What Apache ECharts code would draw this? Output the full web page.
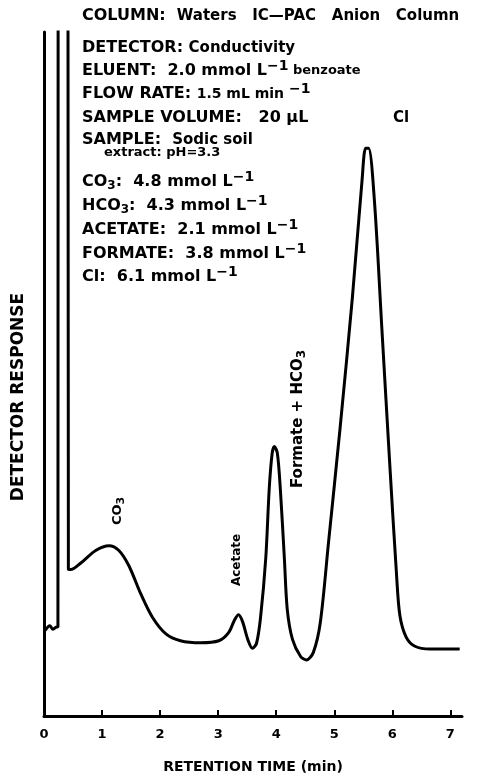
<!DOCTYPE html>
<html>
<head>
<meta charset="utf-8">
<title>Ion chromatogram</title>
<script src="https://cdn.jsdelivr.net/npm/echarts@6/dist/echarts.min.js"></script>
<style>
  html, body { margin: 0; padding: 0; background: #fff; }
  #main { width: 487px; height: 779px; }
</style>
</head>
<body>
<div id="main"></div>
<script>
// retention time (min) and detector response (arbitrary units)
var times = [0.02, 0.10, 0.15, 0.22, 0.24, 0.245, 0.41, 0.42, 0.46, 0.64, 0.89, 1.12, 1.29, 1.46, 1.67, 1.87,
    2.10, 2.35, 2.70, 3.01, 3.18, 3.28, 3.35, 3.42, 3.51, 3.59, 3.66, 3.73, 3.82, 3.88, 3.93, 3.97,
    4.02, 4.07, 4.14, 4.19, 4.28, 4.42, 4.52, 4.64, 4.76, 4.90, 5.10, 5.31, 5.48, 5.54, 5.59, 5.69,
    5.82, 5.96, 6.07, 6.13, 6.24, 6.39, 6.65, 7.16];
var response = [12.5, 13.2, 12.7, 13.0, 13.0, 150, 150, 21.5, 21.4, 22.4, 24.2, 24.9, 24.2, 22.0, 17.8, 14.4,
    12.0, 11.0, 10.7, 11.0, 12.2, 14.0, 14.8, 13.8, 11.2, 9.9, 10.6, 14.4, 23.1, 33.3, 38.4, 39.4,
    38.4, 33.3, 23.1, 15.6, 11.2, 8.7, 8.2, 9.3, 13.7, 25.3, 42.1, 61.0, 78.5, 83.0, 83.0, 75.5,
    56.6, 36.2, 21.0, 14.7, 11.5, 10.2, 9.8, 9.8];
var tickValues = [0, 1, 2, 3, 4, 5, 6, 7];

// conditions text, one entry per line
var infoLines = [
    '{b|COLUMN:  }{w|Waters   IC—PAC   Anion   Column}',
    '{b|DETECTOR: }{m|Conductivity}',
    '{b|ELUENT:  }{b|2.0 mmol L}{sup|−1}{t| benzoate}',
    '{b|FLOW RATE: }{f|1.5 mL min }{sup|−1}',
    '{b|SAMPLE VOLUME:   20 µL}',
    '{b|SAMPLE:  }{m|Sodic soil}',
    '{t|extract: pH=3.3}',
    '{b|CO}{sub|3}{b|:  4.8 mmol L}{sup|−1}',
    '{b|HCO}{sub|3}{b|:  4.3 mmol L}{sup|−1}',
    '{b|ACETATE:  2.1 mmol L}{sup|−1}',
    '{b|FORMATE:  3.8 mmol L}{sup|−1}',
    '{b|Cl:  6.1 mmol L}{sup|−1}'
];
var infoX = [82, 82, 82, 82, 82, 82, 104, 82, 82, 82, 82, 82];
var infoY = [16, 48, 71, 94, 118, 140, 153, 182, 206, 230, 254, 277];

var font = 'DejaVu Sans';
var richStyle = {
    b: { fontSize: 16, fontWeight: 'bold', fontFamily: font, fill: '#000' },
    w: { fontSize: 15, fontWeight: 'bold', fontFamily: font, fill: '#000' },
    f: { fontSize: 14, fontWeight: 'bold', fontFamily: font, fill: '#000' },
    m: { fontSize: 15, fontWeight: 'bold', fontFamily: font, fill: '#000' },
    t: { fontSize: 13, fontWeight: 'bold', fontFamily: font, fill: '#000' },
    sup: { fontSize: 14, fontWeight: 'bold', fontFamily: font, fill: '#000', padding: [0, 0, 10, 0] },
    sub: { fontSize: 12, fontWeight: 'bold', fontFamily: font, fill: '#000', padding: [8, 0, 0, 0] }
};

var graphics = [];
for (var i = 0; i < infoLines.length; i++) {
    graphics.push({
        type: 'text',
        x: infoX[i],
        y: infoY[i],
        style: { text: infoLines[i], rich: richStyle, verticalAlign: 'middle', align: 'left' }
    });
}
// axis title on the left and the peak labels
graphics.push(
    { type: 'text', x: 19, y: 397, rotation: Math.PI / 2,
      style: { text: 'DETECTOR RESPONSE', font: 'bold 17px "DejaVu Sans"', fill: '#000', align: 'center', verticalAlign: 'middle' } },
    { type: 'text', x: 118, y: 511, rotation: Math.PI / 2,
      style: { text: '{m|CO}{subm|3}', rich: { m: { fontSize: 13, fontWeight: 'bold', fontFamily: font }, subm: { fontSize: 11, fontWeight: 'bold', fontFamily: font, padding: [7, 0, 0, 0] } }, align: 'center', verticalAlign: 'middle' } },
    { type: 'text', x: 237, y: 560, rotation: Math.PI / 2,
      style: { text: 'Acetate', font: 'bold 12px "DejaVu Sans"', fill: '#000', align: 'center', verticalAlign: 'middle' } },
    { type: 'text', x: 298, y: 419, rotation: Math.PI / 2,
      style: { text: '{m|Formate + HCO}{subm|3}', rich: { m: { fontSize: 15, fontWeight: 'bold', fontFamily: font }, subm: { fontSize: 12, fontWeight: 'bold', fontFamily: font, padding: [8, 0, 0, 0] } }, align: 'center', verticalAlign: 'middle' } },
    { type: 'text', x: 401, y: 118,
      style: { text: 'Cl', font: 'bold 15px "DejaVu Sans"', fill: '#000', align: 'center', verticalAlign: 'middle' } }
);

var chartData = [];
for (var j = 0; j < times.length; j++) {
    chartData.push([times[j], response[j]]);
}

var myChart = echarts.init(document.getElementById('main'));
var option = {
    animation: false,
    backgroundColor: '#fff',
    grid: { left: 44, right: 25, top: 32, bottom: 60 },
    xAxis: {
        type: 'value',
        min: 0,
        max: 7.2,
        interval: 1,
        name: 'RETENTION TIME (min)',
        nameLocation: 'middle',
        nameGap: 44,
        nameTextStyle: { fontSize: 14, fontWeight: 'bold', fontFamily: font, color: '#000' },
        axisLine: { lineStyle: { color: '#000', width: 3 } },
        axisTick: { inside: true, length: 6, lineStyle: { color: '#000', width: 2 }, customValues: tickValues },
        axisLabel: { customValues: tickValues, margin: 12, fontSize: 13, fontWeight: 'bold', fontFamily: font, color: '#000' },
        splitLine: { show: false }
    },
    yAxis: {
        type: 'value',
        min: 0,
        max: 100,
        axisLine: { show: true, lineStyle: { color: '#000', width: 3 } },
        axisTick: { show: false },
        axisLabel: { show: false },
        splitLine: { show: false }
    },
    series: [{
        type: 'line',
        data: chartData,
        showSymbol: false,
        smooth: 0.3,
        clip: true,
        lineStyle: { color: '#000', width: 3 }
    }],
    graphic: graphics
};
myChart.setOption(option);
</script>
</body>
</html>
